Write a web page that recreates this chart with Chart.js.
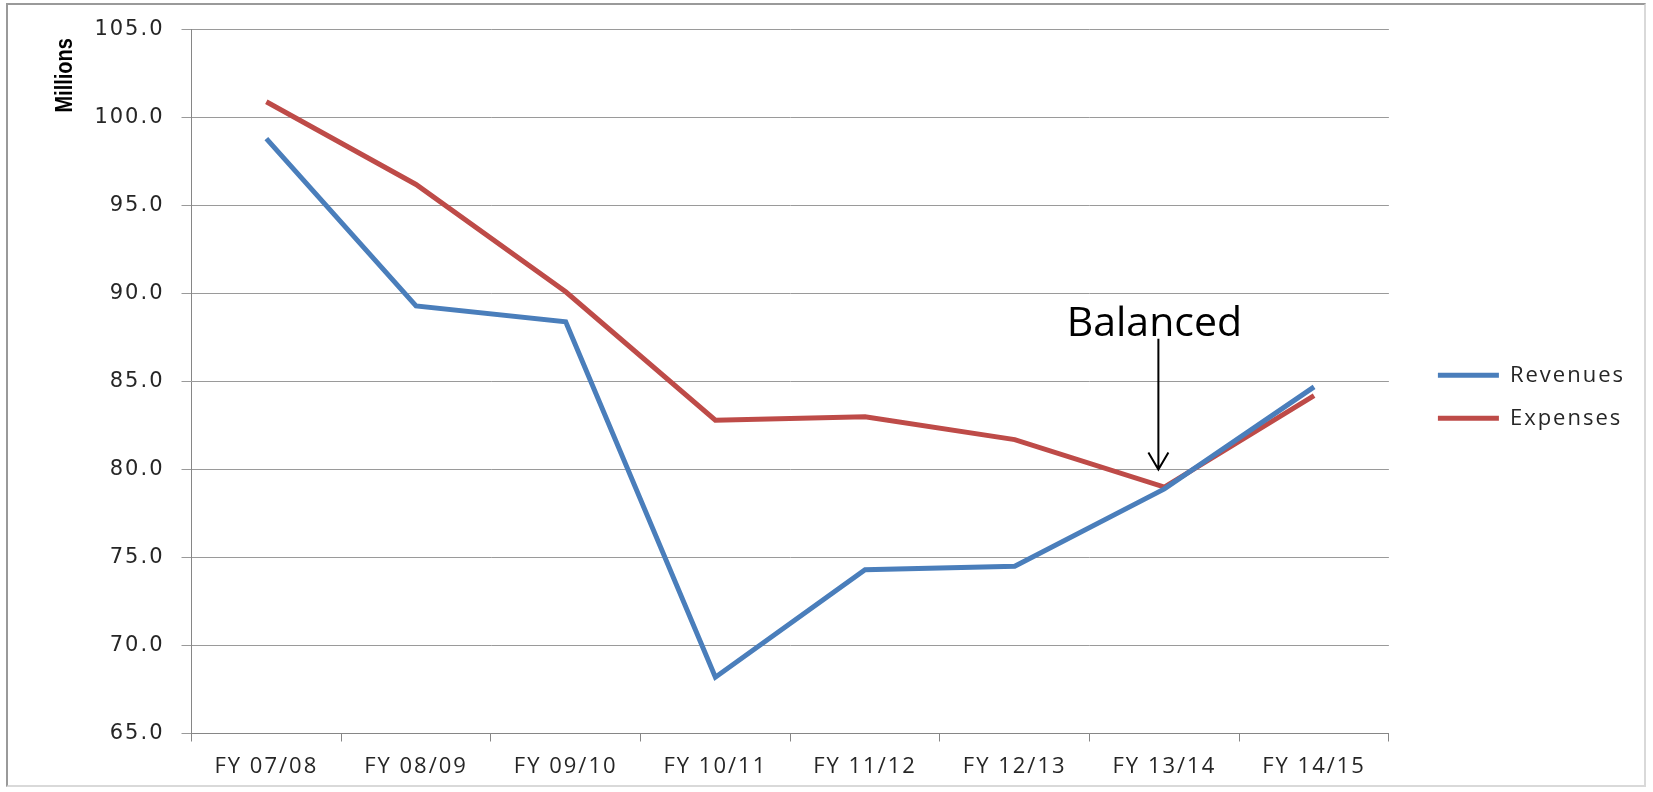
<html>
  <head>
    <title>Revenues vs Expenses</title>
    <script src="https://cdn.jsdelivr.net/npm/chart.js"></script>
    <style>
      body {
        margin: 0;
        background: #fff;
      }
      #frame {
        position: absolute;
        left: 6px;
        top: 3px;
        width: 1640px;
        height: 784px;
        border-style: solid;
        border-width: 2px;
        border-color: #9a9a9a #d9d9d9 #d9d9d9 #9a9a9a;
        box-sizing: border-box;
      }
      #chart {
        position: absolute;
        left: 0;
        top: 0;
      }
    </style>
  </head>
  <body>
    <div id="frame"></div>
    <canvas id="chart" width="1653" height="792"></canvas>

    <script>
      // Fiscal years and totals (millions)
      const categories = ['FY 07/08', 'FY 08/09', 'FY 09/10', 'FY 10/11', 'FY 11/12', 'FY 12/13', 'FY 13/14', 'FY 14/15'];
      const revenues = [98.8, 89.3, 88.4, 68.2, 74.3, 74.5, 78.9, 84.7];
      const expenses = [100.9, 96.2, 90.1, 82.8, 83.0, 81.7, 79.0, 84.2];

      // y axis range
      const yMin = 65;
      const yMax = 105;
      const yStep = 5;

      // "Balanced" callout: category it points at, value at text baseline, value at arrow tip
      const noteCategory = 'FY 13/14';
      const noteText = 'Balanced';
      const noteTextValue = 87.6;
      const noteTipValue = 80;

      const BLUE = '#4A7EBB';
      const RED = '#BE4B48';
      const GRID = '#9a9a9a';
      const AXIS = '#868686';
      const TEXT = '#262626';
      const TRACKING = '2px';

      // the whole chart is a bit wide, so text gets some tracking
      const spacing = {
        id: 'spacing',
        beforeLayout(chart) { chart.ctx.letterSpacing = TRACKING; },
        beforeDraw(chart) { chart.ctx.letterSpacing = TRACKING; }
      };

      // legend sits a little above the middle of the canvas
      const legendShift = {
        id: 'legendShift',
        afterLayout(chart) {
          chart.legend.top -= 9.5;
          chart.legend.bottom -= 9.5;
        }
      };

      // rotated "Millions" label at the top of the value axis
      const yTitle = {
        id: 'yTitle',
        afterDraw(chart) {
          const ctx = chart.ctx;
          const y = chart.scales.y.getPixelForValue(102.4);
          ctx.save();
          ctx.letterSpacing = '0px';
          ctx.translate(65, y);
          ctx.rotate(-Math.PI / 2);
          ctx.scale(1, 1.2);
          ctx.font = 'bold 20px "Liberation Sans", Arial, sans-serif';
          ctx.fillStyle = '#000';
          ctx.textAlign = 'center';
          ctx.textBaseline = 'middle';
          ctx.fillText('Millions', 0, 0);
          ctx.restore();
        }
      };

      // text with an arrow pointing down to where the lines meet
      const balanceNote = {
        id: 'balanceNote',
        afterDatasetsDraw(chart) {
          const ctx = chart.ctx;
          const xs = chart.scales.x;
          const ys = chart.scales.y;
          const x = xs.getPixelForValue(categories.indexOf(noteCategory)) - 6;
          const textY = ys.getPixelForValue(noteTextValue);
          const tipY = ys.getPixelForValue(noteTipValue);
          ctx.save();
          ctx.letterSpacing = '0px';
          ctx.font = '41px "Open Sans", sans-serif';
          ctx.fillStyle = '#000';
          ctx.textAlign = 'center';
          ctx.textBaseline = 'alphabetic';
          ctx.fillText(noteText, x - 4, textY);
          ctx.strokeStyle = '#000';
          ctx.lineWidth = 2;
          ctx.beginPath();
          ctx.moveTo(x, textY + 3);
          ctx.lineTo(x, tipY);
          ctx.moveTo(x - 10, tipY - 17);
          ctx.lineTo(x, tipY);
          ctx.lineTo(x + 10, tipY - 17);
          ctx.stroke();
          ctx.restore();
        }
      };

      const ctx = document.getElementById('chart').getContext('2d');
      const chart = new Chart(ctx, {
        type: 'line',
        data: {
          labels: categories,
          datasets: [{
            label: 'Revenues',
            data: revenues,
            borderColor: BLUE,
            backgroundColor: BLUE,
            borderWidth: 5,
            pointRadius: 0,
            tension: 0
          }, {
            label: 'Expenses',
            data: expenses,
            borderColor: RED,
            backgroundColor: RED,
            borderWidth: 5,
            pointRadius: 0,
            tension: 0
          }]
        },
        options: {
          responsive: false,
          animation: false,
          devicePixelRatio: 1,
          layout: {
            padding: { left: 0, top: 29, right: 18, bottom: 8.5 }
          },
          scales: {
            x: {
              offset: true,
              grid: {
                display: true,
                drawOnChartArea: false,
                offset: true,
                tickLength: 8,
                color: AXIS
              },
              border: { display: true, color: AXIS, width: 1 },
              ticks: {
                color: TEXT,
                padding: 12,
                maxRotation: 0,
                autoSkip: false,
                font: { family: '"Open Sans", sans-serif', size: 22 }
              },
              afterFit(scale) { scale.height = 50; }
            },
            y: {
              min: yMin,
              max: yMax,
              grid: {
                color: GRID,
                tickLength: 10
              },
              border: { display: true, color: AXIS, width: 1 },
              ticks: {
                stepSize: yStep,
                color: TEXT,
                padding: 17,
                font: { family: '"DejaVu Sans", sans-serif', size: 21 },
                callback: (v) => v.toFixed(1)
              },
              afterFit(scale) { scale.width = 191.5; }
            },
            // empty axis that only keeps the legend away from the plot
            gap: {
              position: 'right',
              display: true,
              grid: { display: false, drawTicks: false },
              border: { display: false },
              ticks: { display: false },
              afterFit(scale) { scale.width = 28; }
            }
          },
          plugins: {
            legend: {
              position: 'right',
              labels: {
                usePointStyle: true,
                pointStyle: 'line',
                pointStyleWidth: 61,
                padding: 21,
                color: TEXT,
                font: { family: '"Open Sans", sans-serif', size: 22 }
              }
            },
            tooltip: { enabled: false }
          }
        },
        plugins: [spacing, legendShift, yTitle, balanceNote]
      });
    </script>
  </body>
</html>
